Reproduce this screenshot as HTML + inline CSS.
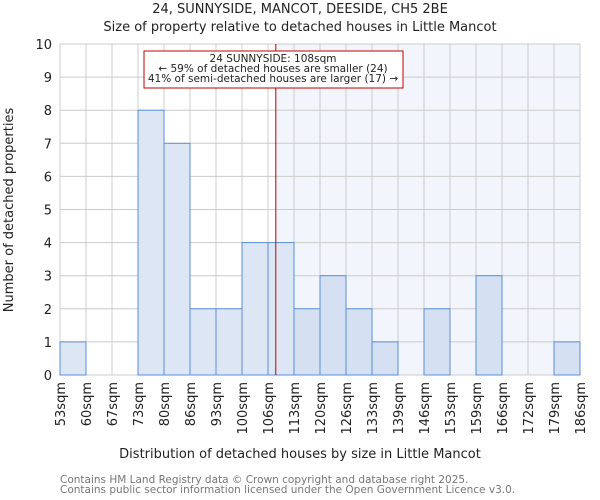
<!DOCTYPE html>
<html><head><meta charset="utf-8"><style>
body{margin:0;background:#fff}
svg{display:block;font-family:"DejaVu Sans","Liberation Sans",sans-serif}
</style></head><body>
<svg id="c" width="600" height="500"></svg>
<script>
const categories=["53sqm","60sqm","67sqm","73sqm","80sqm","86sqm","93sqm","100sqm","106sqm","113sqm","120sqm","126sqm","133sqm","139sqm","146sqm","153sqm","159sqm","166sqm","172sqm","179sqm","186sqm"];
const counts=[1,0,0,8,7,2,2,4,4,2,3,2,1,0,2,0,3,0,0,1];
const yTicks=[0,1,2,3,4,5,6,7,8,9,10];
const markerBin=8.3;
const NS="http://www.w3.org/2000/svg";
const svg=document.getElementById('c');
const X0=60,X1=580,Y0=375,Y1=44,YMAX=10;
const bw=(X1-X0)/counts.length;
const x=i=>X0+i*bw;
const y=v=>Y0-(v/YMAX)*(Y0-Y1);
function el(t,a,p){const e=document.createElementNS(NS,t);for(const k in a)e.setAttribute(k,a[k]);(p||svg).appendChild(e);return e;}
const mx=x(markerBin);
const shade=el('rect',{x:mx,y:Y1,width:X1-mx,height:Y0-Y1,fill:'#f2f5fc'});


for(let i=0;i<=counts.length;i++){
 const g=el('line',{x1:x(i),x2:x(i),y1:Y1,y2:Y0,stroke:'#cccccc','stroke-width':1});
 
 
}
yTicks.forEach(v=>{
 const g=el('line',{x1:X0,x2:X1,y1:y(v),y2:y(v),stroke:'#cccccc','stroke-width':1});
 
 
 const t=el('text',{x:52,y:y(v)+5,'text-anchor':'end','font-size':13,fill:'#222'});
 t.textContent=v;
 
 
});
counts.forEach((c,i)=>{
 if(c<=0)return;
 const r=el('rect',{x:x(i),y:y(c),width:bw,height:Y0-y(c),fill:(x(i)>=mx?'#d5e0f3':'#dce6f4'),stroke:'#5b8fd6','stroke-width':1});
 
 
});
categories.forEach((c,i)=>{
 const t=el('text',{transform:`translate(${x(i)+5},382) rotate(-90)`,'text-anchor':'end','font-size':13,fill:'#222'});
 t.textContent=c;
 
 
});
const ml=el('line',{x1:mx,x2:mx,y1:Y1,y2:Y0,stroke:'#c00000','stroke-width':1});


</script>
<script>
const s2=document.getElementById('c');
const NS2="http://www.w3.org/2000/svg";
function e2(t,a,txt,name,inter){const e=document.createElementNS(NS2,t);for(const k in a)e.setAttribute(k,a[k]);if(txt)e.textContent=txt;s2.appendChild(e);return e;}
e2('rect',{x:144,y:51,width:259,height:37,fill:'#fff',stroke:'#c00000','stroke-width':1},null,'annotation-box','false');
e2('text',{x:273,y:62,'text-anchor':'middle','font-size':10.5,fill:'#222'},'24 SUNNYSIDE: 108sqm','annotation-title','false');
e2('text',{x:273,y:72,'text-anchor':'middle','font-size':10.5,fill:'#222'},'← 59% of detached houses are smaller (24)','annotation-smaller','false');
e2('text',{x:273,y:82,'text-anchor':'middle','font-size':10.5,fill:'#222'},'41% of semi-detached houses are larger (17) →','annotation-larger','false');
e2('text',{x:300,y:13,'text-anchor':'middle','font-size':13,fill:'#222'},'24, SUNNYSIDE, MANCOT, DEESIDE, CH5 2BE','chart-title','false');
e2('text',{x:300,y:31,'text-anchor':'middle','font-size':13,fill:'#222'},'Size of property relative to detached houses in Little Mancot','chart-subtitle','false');
e2('text',{x:300,y:458,'text-anchor':'middle','font-size':13,fill:'#222'},'Distribution of detached houses by size in Little Mancot','x-axis-title','false');
e2('text',{transform:'translate(13,210) rotate(-90)','text-anchor':'middle','font-size':13,fill:'#222'},'Number of detached properties','y-axis-title','false');
e2('text',{x:60,y:483,'font-size':10.5,fill:'#777'},'Contains HM Land Registry data © Crown copyright and database right 2025.','footer-line-1','false');
e2('text',{x:60,y:493,'font-size':10.5,fill:'#777'},'Contains public sector information licensed under the Open Government Licence v3.0.','footer-line-2','false');
</script>
</body></html>
